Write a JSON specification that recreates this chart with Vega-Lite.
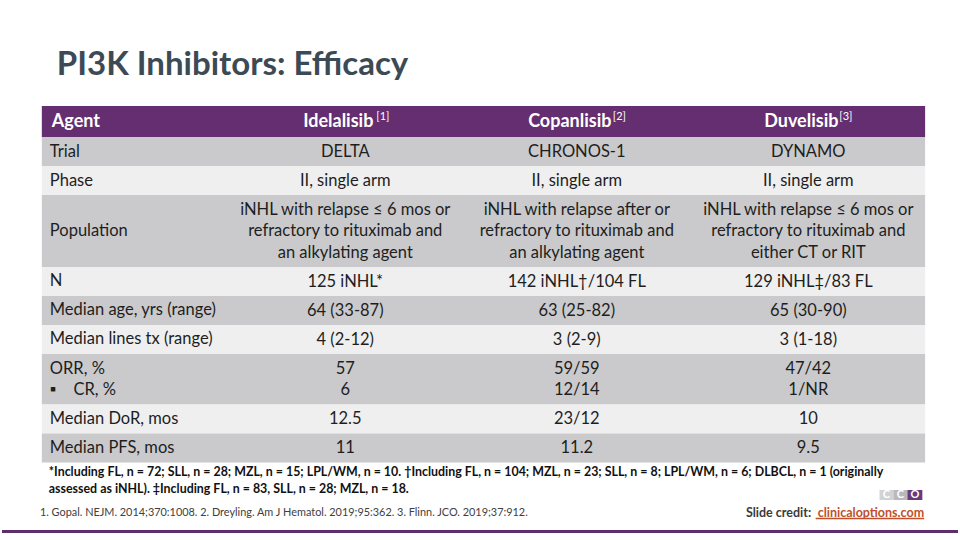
{
  "$schema": "https://vega.github.io/schema/vega-lite/v6.json",
  "width": 960,
  "height": 540,
  "autosize": {"type": "fit", "contains": "padding"},
  "padding": 0,
  "background": "#ffffff",
  "config": {"view": {"stroke": null}, "text": {"font": "Lato"}},
  "layer": [
    {
      "data": {"values": [
        {"label": "Agent", "Idelalisib": "Idelalisib", "Copanlisib": "Copanlisib", "Duvelisib": "Duvelisib", "Idelalisib_ref": "[1]", "Copanlisib_ref": "[2]", "Duvelisib_ref": "[3]"},
        {"label": "Trial", "Idelalisib": "DELTA", "Copanlisib": "CHRONOS-1", "Duvelisib": "DYNAMO"},
        {"label": "Phase", "Idelalisib": "II, single arm", "Copanlisib": "II, single arm", "Duvelisib": "II, single arm"},
        {"label": "Population", "Idelalisib": ["iNHL with relapse ≤ 6 mos or", "refractory to rituximab and", "an alkylating agent"], "Copanlisib": ["iNHL with relapse after or", "refractory to rituximab and", "an alkylating agent"], "Duvelisib": ["iNHL with relapse ≤ 6 mos or", "refractory to rituximab and", "either CT or RIT"]},
        {"label": "N", "Idelalisib": "125 iNHL*", "Copanlisib": "142 iNHL†/104 FL", "Duvelisib": "129 iNHL‡/83 FL"},
        {"label": "Median age, yrs (range)", "Idelalisib": "64 (33-87)", "Copanlisib": "63 (25-82)", "Duvelisib": "65 (30-90)"},
        {"label": "Median lines tx (range)", "Idelalisib": "4 (2-12)", "Copanlisib": "3 (2-9)", "Duvelisib": "3 (1-18)"},
        {"label": ["ORR, %", "▪\u00a0\u00a0\u00a0 CR, %"], "Idelalisib": ["57", "6"], "Copanlisib": ["59/59", "12/14"], "Duvelisib": ["47/42", "1/NR"]},
        {"label": "Median DoR, mos", "Idelalisib": "12.5", "Copanlisib": "23/12", "Duvelisib": "10"},
        {"label": "Median PFS, mos", "Idelalisib": "11", "Copanlisib": "11.2", "Duvelisib": "9.5"}
      ]},
      "transform": [
        {"window": [{"op": "row_number", "as": "order"}]},
        {"calculate": "isArray(datum.Idelalisib) ? length(datum.Idelalisib) : 1", "as": "lines"},
        {"calculate": "datum.order == 1 ? 1.06 : 0.99 + (datum.lines - 1) * 0.734", "as": "h"},
        {"window": [{"op": "sum", "field": "h", "as": "bottom"}], "sort": [{"field": "order", "order": "ascending"}], "frame": [null, 0]},
        {"calculate": "datum.bottom - datum.h", "as": "top"},
        {"calculate": "datum.top + 0.512", "as": "first"},
        {"calculate": "isArray(datum.label) ? datum.first : (datum.top + datum.bottom) / 2", "as": "ly"},
        {"calculate": "datum.order == 1 ? 'header' : (datum.order % 2 == 0 ? 'dark' : 'light')", "as": "shade"}
      ],
      "layer": [
        {
          "mark": {"type": "rect"},
          "encoding": {
            "x": {"datum": -0.3106, "type": "quantitative", "scale": {"type": "linear", "domain": [-0.4826, 3.6465], "nice": false, "zero": false}, "axis": null},
            "x2": {"datum": 3.5045},
            "y": {"field": "top", "type": "quantitative", "scale": {"type": "linear", "domain": [-3.62, 14.823], "nice": false, "zero": false, "reverse": true}, "axis": null},
            "y2": {"field": "bottom"},
            "color": {"field": "shade", "type": "nominal", "scale": {"domain": ["header", "dark", "light"], "range": ["#642e70", "#cacacc", "#efeff0"]}, "legend": null}
          }
        },
        {
          "transform": [{"filter": "datum.shade != 'header'"}],
          "mark": {"type": "text", "align": "left", "baseline": "middle", "fontSize": 16.5, "lineHeight": 21.5, "color": "#1e1e1e"},
          "encoding": {
            "x": {"datum": -0.2761, "type": "quantitative"},
            "y": {"field": "ly", "type": "quantitative"},
            "text": {"field": "label"}
          }
        },
        {
          "transform": [{"filter": "datum.shade == 'header'"}],
          "mark": {"type": "text", "align": "left", "baseline": "middle", "fontSize": 18, "fontWeight": "bold", "color": "#ffffff"},
          "encoding": {
            "x": {"datum": -0.2675, "type": "quantitative"},
            "y": {"field": "ly", "type": "quantitative"},
            "text": {"field": "label"}
          }
        },
        {
          "transform": [
            {"filter": "datum.shade != 'header'"},
            {"fold": ["Idelalisib", "Copanlisib", "Duvelisib"], "as": ["agent", "cell"]},
            {"calculate": "indexof(['Idelalisib', 'Copanlisib', 'Duvelisib'], datum.agent) + 1", "as": "col"}
          ],
          "mark": {"type": "text", "align": "center", "baseline": "middle", "fontSize": 16.5, "lineHeight": 21.3, "color": "#1e1e1e"},
          "encoding": {
            "x": {"field": "col", "type": "quantitative"},
            "y": {"field": "first", "type": "quantitative"},
            "text": {"field": "cell"}
          }
        },
        {
          "transform": [
            {"filter": "datum.shade == 'header'"},
            {"fold": ["Idelalisib", "Copanlisib", "Duvelisib"], "as": ["agent", "cell"]},
            {"calculate": "indexof(['Idelalisib', 'Copanlisib', 'Duvelisib'], datum.agent) + 1", "as": "col"}
          ],
          "mark": {"type": "text", "align": "center", "baseline": "middle", "fontSize": 18, "fontWeight": "bold", "color": "#ffffff", "dx": -7},
          "encoding": {
            "x": {"field": "col", "type": "quantitative"},
            "y": {"field": "ly", "type": "quantitative"},
            "text": {"field": "cell"}
          }
        },
        {
          "transform": [{"filter": "datum.shade == 'header'"}],
          "mark": {"type": "text", "align": "left", "baseline": "middle", "fontSize": 11, "color": "#ffffff", "dx": 31, "dy": -5},
          "encoding": {
            "x": {"datum": 1, "type": "quantitative"},
            "y": {"field": "ly", "type": "quantitative"},
            "text": {"field": "Idelalisib_ref"}
          }
        },
        {
          "transform": [{"filter": "datum.shade == 'header'"}],
          "mark": {"type": "text", "align": "left", "baseline": "middle", "fontSize": 11, "color": "#ffffff", "dx": 36, "dy": -5},
          "encoding": {
            "x": {"datum": 2, "type": "quantitative"},
            "y": {"field": "ly", "type": "quantitative"},
            "text": {"field": "Copanlisib_ref"}
          }
        },
        {
          "transform": [{"filter": "datum.shade == 'header'"}],
          "mark": {"type": "text", "align": "left", "baseline": "middle", "fontSize": 11, "color": "#ffffff", "dx": 31, "dy": -5},
          "encoding": {
            "x": {"datum": 3, "type": "quantitative"},
            "y": {"field": "ly", "type": "quantitative"},
            "text": {"field": "Duvelisib_ref"}
          }
        }
      ]
    },
    {
      "data": {"values": [{"text": "PI3K Inhibitors: Efficacy"}]},
      "mark": {"type": "text", "align": "left", "baseline": "alphabetic", "fontSize": 33, "fontWeight": "bold", "color": "#3c4a56"},
      "encoding": {
        "x": {"datum": -0.246, "type": "quantitative"},
        "y": {"datum": -1.042, "type": "quantitative"},
        "text": {"field": "text"}
      }
    },
    {
      "data": {"values": [{"text": ["*Including FL, n = 72; SLL, n = 28; MZL, n = 15; LPL/WM, n = 10. †Including FL, n = 104; MZL, n = 23; SLL, n = 8; LPL/WM, n = 6; DLBCL, n = 1 (originally", "assessed as iNHL). ‡Including FL, n = 83, SLL, n = 28; MZL, n = 18."]}]},
      "mark": {"type": "text", "align": "left", "baseline": "alphabetic", "fontSize": 12.4, "fontWeight": "bold", "lineHeight": 17, "color": "#111111"},
      "encoding": {
        "x": {"datum": -0.2804, "type": "quantitative"},
        "y": {"datum": 12.637, "type": "quantitative"},
        "text": {"field": "text"}
      }
    },
    {
      "data": {"values": [{"text": "1. Gopal. NEJM. 2014;370:1008. 2. Dreyling. Am J Hematol. 2019;95:362. 3. Flinn. JCO. 2019;37:912."}]},
      "mark": {"type": "text", "align": "left", "baseline": "alphabetic", "fontSize": 10.9, "color": "#404040"},
      "encoding": {
        "x": {"datum": -0.3187, "type": "quantitative"},
        "y": {"datum": 14.003, "type": "quantitative"},
        "text": {"field": "text"}
      }
    },
    {
      "data": {"values": [{"label": "Slide credit:", "url": "clinicaloptions.com"}]},
      "layer": [
        {
          "mark": {"type": "text", "align": "right", "baseline": "alphabetic", "fontSize": 12.5, "fontWeight": "bold", "color": "#c0502b"},
          "encoding": {
            "x": {"datum": 3.5002, "type": "quantitative"},
            "y": {"datum": 14.037, "type": "quantitative"},
            "text": {"field": "url"}
          }
        },
        {
          "mark": {"type": "text", "align": "right", "baseline": "alphabetic", "fontSize": 12.5, "fontWeight": "bold", "color": "#3b3b3b", "dx": -113},
          "encoding": {
            "x": {"datum": 3.5002, "type": "quantitative"},
            "y": {"datum": 14.037, "type": "quantitative"},
            "text": {"field": "label"}
          }
        },
        {
          "mark": {"type": "rule", "color": "#c0502b", "strokeWidth": 1.5},
          "encoding": {
            "x": {"datum": 3.0316, "type": "quantitative"},
            "x2": {"datum": 3.5002},
            "y": {"datum": 14.088, "type": "quantitative"}
          }
        }
      ]
    },
    {
      "data": {"values": [{"a": "C"}]},
      "layer": [
        {"mark": {"type": "rect", "color": "#d2d2d4"}, "encoding": {"x": {"datum": 3.3075, "type": "quantitative"}, "x2": {"datum": 3.3677}, "y": {"datum": 13.115, "type": "quantitative"}, "y2": {"datum": 13.456}}},
        {"mark": {"type": "rect", "color": "#b9b9bd"}, "encoding": {"x": {"datum": 3.3677, "type": "quantitative"}, "x2": {"datum": 3.428}, "y": {"datum": 13.115, "type": "quantitative"}, "y2": {"datum": 13.456}}},
        {"mark": {"type": "rect", "color": "#6a3a78"}, "encoding": {"x": {"datum": 3.428, "type": "quantitative"}, "x2": {"datum": 3.4925}, "y": {"datum": 13.115, "type": "quantitative"}, "y2": {"datum": 13.456}}}
      ]
    },
    {
      "data": {"values": [{"t": "C", "p": 3.3376}, {"t": "C", "p": 3.3979}, {"t": "O", "p": 3.4603}]},
      "mark": {"type": "text", "align": "center", "baseline": "middle", "fontSize": 11, "fontWeight": "bold", "color": "#ffffff"},
      "encoding": {
        "x": {"field": "p", "type": "quantitative"},
        "y": {"datum": 13.29, "type": "quantitative"},
        "text": {"field": "t"}
      }
    },
    {
      "data": {"values": [{"a": 1}]},
      "mark": {"type": "rule", "color": "#5e2d6b", "strokeWidth": 3},
      "encoding": {
        "x": {"datum": -0.4826, "type": "quantitative"},
        "x2": {"datum": 3.6465},
        "y": {"datum": 14.532, "type": "quantitative"}
      }
    }
  ]
}
